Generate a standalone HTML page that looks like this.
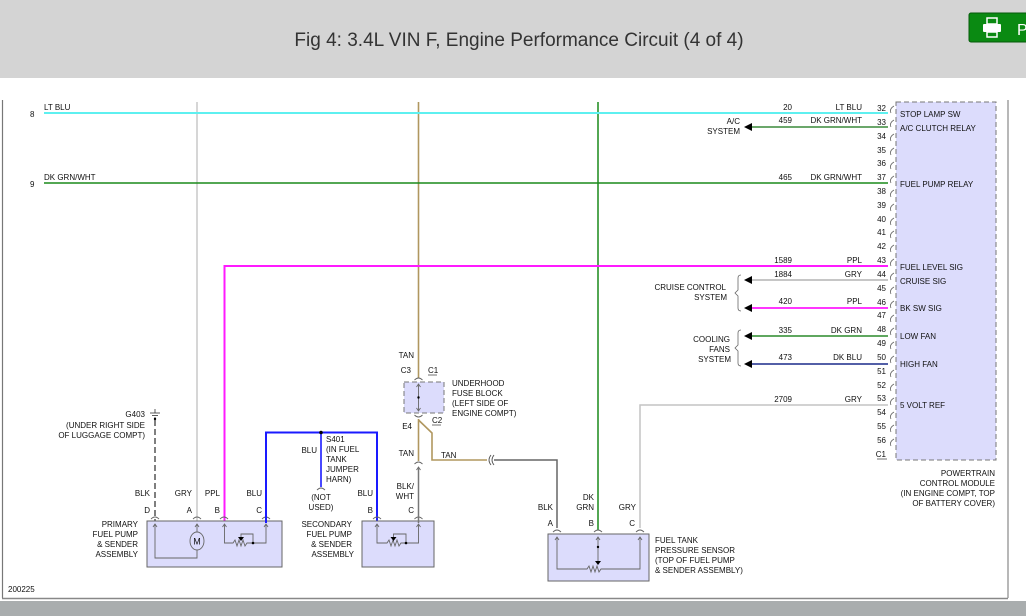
<!DOCTYPE html>
<html><head><meta charset="utf-8">
<style>
html,body{margin:0;padding:0;width:1026px;height:616px;overflow:hidden;background:#fff;}
svg{display:block;}
text{font-family:"Liberation Sans",Arial,sans-serif;font-size:8px;fill:#111;}
</style></head>
<body>
<svg width="1026" height="616" viewBox="0 0 1026 616" xmlns="http://www.w3.org/2000/svg">
<!-- header -->
<rect x="0" y="0" width="1026" height="78" fill="#d4d4d4"/>
<text x="519" y="46" text-anchor="middle" style="font-size:19px;fill:#333">Fig 4: 3.4L VIN F, Engine Performance Circuit (4 of 4)</text>
<rect x="969" y="13" width="60" height="29" rx="2" fill="#0a8a12" stroke="#055a0a"/>
<rect x="987" y="18" width="10" height="6" fill="none" stroke="#fff" stroke-width="1.5"/>
<rect x="983" y="24" width="18" height="8" rx="1" fill="#fff"/>
<rect x="987" y="32" width="10" height="5" fill="none" stroke="#fff" stroke-width="1.5"/>
<text x="1017" y="35" style="font-size:16px;fill:#fff">P</text>
<!-- bottom bar -->
<rect x="0" y="601" width="1026" height="15" fill="#a9adae"/>
<!-- frame -->
<line x1="2.5" y1="100" x2="2.5" y2="598" stroke="#777" stroke-width="1.2"/>
<line x1="2" y1="598.5" x2="1008" y2="598.5" stroke="#888" stroke-width="1.5"/>
<line x1="1008" y1="100" x2="1008" y2="598" stroke="#888" stroke-width="1.2"/>
<text x="8" y="592">200225</text>

<!-- PCM box -->
<rect x="896" y="102" width="100" height="358" fill="#dcdcfc" stroke="#777" stroke-dasharray="5,3"/>
<g>
<text x="886" y="111" text-anchor="end">32</text>
<text x="886" y="125" text-anchor="end">33</text>
<text x="886" y="139" text-anchor="end">34</text>
<text x="886" y="153" text-anchor="end">35</text>
<text x="886" y="166" text-anchor="end">36</text>
<text x="886" y="180" text-anchor="end">37</text>
<text x="886" y="194" text-anchor="end">38</text>
<text x="886" y="208" text-anchor="end">39</text>
<text x="886" y="222" text-anchor="end">40</text>
<text x="886" y="235" text-anchor="end">41</text>
<text x="886" y="249" text-anchor="end">42</text>
<text x="886" y="263" text-anchor="end">43</text>
<text x="886" y="277" text-anchor="end">44</text>
<text x="886" y="291" text-anchor="end">45</text>
<text x="886" y="305" text-anchor="end">46</text>
<text x="886" y="318" text-anchor="end">47</text>
<text x="886" y="332" text-anchor="end">48</text>
<text x="886" y="346" text-anchor="end">49</text>
<text x="886" y="360" text-anchor="end">50</text>
<text x="886" y="374" text-anchor="end">51</text>
<text x="886" y="388" text-anchor="end">52</text>
<text x="886" y="401" text-anchor="end">53</text>
<text x="886" y="415" text-anchor="end">54</text>
<text x="886" y="429" text-anchor="end">55</text>
<text x="886" y="443" text-anchor="end">56</text>
<text x="886" y="457" text-anchor="end">C1</text>
<line x1="877" y1="459" x2="887" y2="459" stroke="#111" stroke-width="0.6"/>
</g>
<g fill="none" stroke="#666" stroke-width="0.8">
<path d="M894 106 q-5 3 -3 7 M894 120 q-5 3 -3 7 M894 134 q-5 3 -3 7 M894 148 q-5 3 -3 7 M894 162 q-5 3 -3 7 M894 176 q-5 3 -3 7 M894 190 q-5 3 -3 7 M894 204 q-5 3 -3 7 M894 218 q-5 3 -3 7 M894 231 q-5 3 -3 7 M894 245 q-5 3 -3 7 M894 259 q-5 3 -3 7 M894 273 q-5 3 -3 7 M894 287 q-5 3 -3 7 M894 301 q-5 3 -3 7 M894 315 q-5 3 -3 7 M894 328 q-5 3 -3 7 M894 342 q-5 3 -3 7 M894 356 q-5 3 -3 7 M894 370 q-5 3 -3 7 M894 384 q-5 3 -3 7 M894 398 q-5 3 -3 7 M894 412 q-5 3 -3 7 M894 425 q-5 3 -3 7 M894 439 q-5 3 -3 7"/>
</g>
<g style="font-size:8px">
<text x="900" y="117">STOP LAMP SW</text>
<text x="900" y="131">A/C CLUTCH RELAY</text>
<text x="900" y="187">FUEL PUMP RELAY</text>
<text x="900" y="270">FUEL LEVEL SIG</text>
<text x="900" y="284">CRUISE SIG</text>
<text x="900" y="311">BK SW SIG</text>
<text x="900" y="339">LOW FAN</text>
<text x="900" y="367">HIGH FAN</text>
<text x="900" y="408">5 VOLT REF</text>
</g>
<g text-anchor="end">
<text x="995" y="476">POWERTRAIN</text>
<text x="995" y="486">CONTROL MODULE</text>
<text x="995" y="496">(IN ENGINE COMPT, TOP</text>
<text x="995" y="506">OF BATTERY COVER)</text>
</g>

<!-- vertical background wires -->
<line x1="197" y1="102" x2="197" y2="523" stroke="#c8c8c8" stroke-width="1.5"/>
<line x1="418.5" y1="102" x2="418.5" y2="378" stroke="#b0975f" stroke-width="1.6"/>
<line x1="598" y1="102" x2="598" y2="530" stroke="#1a8a1a" stroke-width="1.5"/>

<!-- horizontal wires -->
<line x1="44" y1="113" x2="888" y2="113" stroke="#5ef0f0" stroke-width="2"/>
<text x="44" y="110">LT BLU</text><text x="30" y="117">8</text>
<text x="792" y="110" text-anchor="end">20</text><text x="862" y="110" text-anchor="end">LT BLU</text>

<line x1="752" y1="127" x2="888" y2="127" stroke="#3a8a3a" stroke-width="1.5"/>
<path d="M744 127 l8 -4 v8 z" fill="#000"/>
<text x="740" y="124" text-anchor="end">A/C</text><text x="740" y="134" text-anchor="end">SYSTEM</text>
<text x="792" y="123" text-anchor="end">459</text><text x="862" y="123" text-anchor="end">DK GRN/WHT</text>

<line x1="44" y1="183" x2="888" y2="183" stroke="#1a8a1a" stroke-width="1.5"/>
<text x="44" y="180">DK GRN/WHT</text><text x="30" y="187">9</text>
<text x="792" y="180" text-anchor="end">465</text><text x="862" y="180" text-anchor="end">DK GRN/WHT</text>

<polyline points="224.5,526 224.5,266 888,266" fill="none" stroke="#ff1aff" stroke-width="2"/>
<text x="792" y="263" text-anchor="end">1589</text><text x="862" y="263" text-anchor="end">PPL</text>

<line x1="752" y1="280" x2="888" y2="280" stroke="#b4b4b4" stroke-width="1.5"/>
<path d="M744 280 l8 -4 v8 z" fill="#000"/>
<text x="792" y="277" text-anchor="end">1884</text><text x="862" y="277" text-anchor="end">GRY</text>
<line x1="752" y1="308" x2="888" y2="308" stroke="#ff1aff" stroke-width="1.8"/>
<path d="M744 308 l8 -4 v8 z" fill="#000"/>
<text x="792" y="304" text-anchor="end">420</text><text x="862" y="304" text-anchor="end">PPL</text>
<path d="M741 275 q-3 0 -3 3 v12 l-3 3 l3 3 v12 q0 3 3 3" fill="none" stroke="#666" stroke-width="0.8"/>
<text x="726" y="290" text-anchor="end">CRUISE CONTROL</text><text x="727" y="300" text-anchor="end">SYSTEM</text>

<line x1="752" y1="336" x2="888" y2="336" stroke="#2a8a2a" stroke-width="1.5"/>
<path d="M744 336 l8 -4 v8 z" fill="#000"/>
<text x="792" y="333" text-anchor="end">335</text><text x="862" y="333" text-anchor="end">DK GRN</text>
<line x1="752" y1="364" x2="888" y2="364" stroke="#1a2a8a" stroke-width="1.6"/>
<path d="M744 364 l8 -4 v8 z" fill="#000"/>
<text x="792" y="360" text-anchor="end">473</text><text x="862" y="360" text-anchor="end">DK BLU</text>
<path d="M741 330 q-3 0 -3 3 v12 l-3 3 l3 3 v12 q0 3 3 3" fill="none" stroke="#666" stroke-width="0.8"/>
<text x="730" y="342" text-anchor="end">COOLING</text><text x="730" y="352" text-anchor="end">FANS</text><text x="731" y="362" text-anchor="end">SYSTEM</text>

<polyline points="640,528 640,405 888,405" fill="none" stroke="#c4c4c4" stroke-width="1.5"/>
<text x="792" y="402" text-anchor="end">2709</text><text x="862" y="402" text-anchor="end">GRY</text>

<!-- G403 -->
<line x1="155" y1="420" x2="155" y2="524" stroke="#555" stroke-width="1.5" stroke-dasharray="6,3"/>
<g stroke="#333" stroke-width="0.8"><line x1="150" y1="413" x2="160" y2="413"/><line x1="152" y1="415.5" x2="158" y2="415.5"/><line x1="154" y1="418" x2="156" y2="418"/><line x1="155" y1="409" x2="155" y2="413"/></g>
<circle cx="155" cy="419" r="1.2" fill="#000"/>
<text x="145" y="417" text-anchor="end">G403</text>
<text x="145" y="428" text-anchor="end">(UNDER RIGHT SIDE</text>
<text x="145" y="438" text-anchor="end">OF LUGGAGE COMPT)</text>

<!-- primary fuel pump -->
<rect x="147" y="521" width="135" height="46" fill="#dcdcfc" stroke="#666"/>
<g fill="none" stroke="#666" stroke-width="0.9">
<path d="M151 519 q4 -4 8 0 M193 519 q4 -4 8 0 M220 519 q4 -4 8 0 M262 519 q4 -4 8 0"/>
<polyline points="155,524 155,558 197,558 197,550"/>
<line x1="197" y1="524" x2="197" y2="532"/>
<polyline points="224.5,524 224.5,543 233,543 235,540 237,546 239,540 241,546 243,540 245,546 247,543 266,543 266,524"/>
<polyline points="241,538 241,534 253,534 253,543"/>
<ellipse cx="197" cy="541" rx="7" ry="9"/>
<path d="M153 527 l2 -3 l2 3 M195 527 l2 -3 l2 3 M222.5 527 l2 -3 l2 3 M264 527 l2 -3 l2 3"/>
</g>
<path d="M238 537 h6 l-3 4 z" fill="#000"/><circle cx="253" cy="543" r="1.3" fill="#000"/>
<text x="197" y="544.5" text-anchor="middle" style="font-size:9px">M</text>
<text x="150" y="513" text-anchor="end">D</text><text x="192" y="513" text-anchor="end">A</text><text x="220" y="513" text-anchor="end">B</text><text x="262" y="513" text-anchor="end">C</text>
<text x="150" y="496" text-anchor="end">BLK</text><text x="192" y="496" text-anchor="end">GRY</text><text x="220" y="496" text-anchor="end">PPL</text><text x="262" y="496" text-anchor="end">BLU</text>
<g text-anchor="end"><text x="138" y="527">PRIMARY</text><text x="138" y="537">FUEL PUMP</text><text x="138" y="547">&amp; SENDER</text><text x="138" y="557">ASSEMBLY</text></g>

<!-- blue wires / S401 -->
<polyline points="266,523 266,432.5 377,432.5 377,523" fill="none" stroke="#1a1aff" stroke-width="2"/>
<line x1="321" y1="432" x2="321" y2="487" stroke="#1a1aff" stroke-width="1.6"/>
<circle cx="321" cy="432.5" r="1.8" fill="#000"/>
<path d="M317 490 q4 -4 8 0" fill="none" stroke="#666" stroke-width="0.9"/>
<text x="326" y="442">S401</text><text x="326" y="452">(IN FUEL</text><text x="326" y="462">TANK</text><text x="326" y="472">JUMPER</text><text x="326" y="482">HARN)</text>
<text x="317" y="453" text-anchor="end">BLU</text>
<text x="321" y="500" text-anchor="middle">(NOT</text><text x="321" y="510" text-anchor="middle">USED)</text>
<text x="373" y="496" text-anchor="end">BLU</text>

<!-- secondary pump -->
<rect x="362" y="521" width="72" height="46" fill="#dcdcfc" stroke="#666"/>
<g fill="none" stroke="#666" stroke-width="0.9">
<path d="M373 519 q4 -4 8 0 M414.5 519 q4 -4 8 0"/>
<polyline points="377,524 377,543 387,543 389,540 391,546 393,540 395,546 397,540 399,546 401,543 418.5,543 418.5,524"/>
<polyline points="393.5,538 393.5,534 406,534 406,543"/>
<path d="M375 527 l2 -3 l2 3 M416.5 527 l2 -3 l2 3"/>
</g>
<path d="M390.5 537 h6 l-3 4 z" fill="#000"/><circle cx="406" cy="543" r="1.3" fill="#000"/>
<text x="373" y="513" text-anchor="end">B</text><text x="414" y="513" text-anchor="end">C</text>
<g text-anchor="end"><text x="352" y="527">SECONDARY</text><text x="352" y="537">FUEL PUMP</text><text x="352" y="547">&amp; SENDER</text><text x="354" y="557">ASSEMBLY</text></g>

<!-- fuse block -->
<rect x="404" y="382" width="40" height="31" fill="#dcdcfc" stroke="#777" stroke-dasharray="5,3"/>
<g fill="none" stroke="#666" stroke-width="0.9">
<path d="M414.5 380 q4 -4 8 0 M414.5 415 q4 4 8 0"/>
<line x1="418.5" y1="384" x2="418.5" y2="411"/>
<path d="M416.5 387 l2 -3 l2 3 M416.5 408 l2 3 l2 -3"/>
<path d="M414.5 464 q4 -4 8 0"/>
<path d="M416.5 470 l2 -3 l2 3"/>
</g>
<circle cx="418.5" cy="397.5" r="1.2" fill="#000"/>
<text x="414" y="358" text-anchor="end">TAN</text>
<text x="411" y="373" text-anchor="end">C3</text><text x="428" y="373">C1</text>
<line x1="428" y1="375" x2="437" y2="375" stroke="#111" stroke-width="0.6"/>
<text x="432" y="423">C2</text>
<line x1="432" y1="425" x2="441" y2="425" stroke="#111" stroke-width="0.6"/>
<text x="412" y="429" text-anchor="end">E4</text>
<g><text x="452" y="386">UNDERHOOD</text><text x="452" y="396">FUSE BLOCK</text><text x="452" y="406">(LEFT SIDE OF</text><text x="452" y="416">ENGINE COMPT)</text></g>
<line x1="418.5" y1="419" x2="418.5" y2="461" stroke="#b0975f" stroke-width="1.6"/>
<polyline points="418.5,420 432,433 432,460 487,460" fill="none" stroke="#b0975f" stroke-width="1.6"/>
<text x="414" y="456" text-anchor="end">TAN</text><text x="441" y="458">TAN</text>
<path d="M491 455 q-4 5 0 10 M494 455 q-4 5 0 10" fill="none" stroke="#555" stroke-width="0.9"/>
<polyline points="494,460 557,460 557,528" fill="none" stroke="#666" stroke-width="1.5"/>
<line x1="418.5" y1="468" x2="418.5" y2="523" stroke="#777" stroke-width="1.5"/>
<text x="414" y="489" text-anchor="end">BLK/</text><text x="414" y="499" text-anchor="end">WHT</text>

<!-- fuel tank pressure sensor -->
<rect x="548" y="534" width="101" height="47" fill="#dcdcfc" stroke="#666"/>
<g fill="none" stroke="#666" stroke-width="0.9">
<path d="M553 532 q4 -4 8 0 M594 532 q4 -4 8 0 M636 532 q4 -4 8 0"/>
<polyline points="557,537 557,569 587,569 589,566 591,572 593,566 595,572 597,566 599,572 601,569 640,569 640,537"/>
<path d="M555 540 l2 -3 l2 3 M596 540 l2 -3 l2 3 M638 540 l2 -3 l2 3"/>
<line x1="598" y1="537" x2="598" y2="561"/>
</g>
<path d="M595 561 h6 l-3 4 z" fill="#000"/><circle cx="598" cy="547" r="1.2" fill="#000"/>
<text x="553" y="526" text-anchor="end">A</text><text x="594" y="526" text-anchor="end">B</text><text x="635" y="526" text-anchor="end">C</text>
<text x="553" y="510" text-anchor="end">BLK</text>
<text x="594" y="500" text-anchor="end">DK</text><text x="594" y="510" text-anchor="end">GRN</text>
<text x="636" y="510" text-anchor="end">GRY</text>
<g><text x="655" y="543">FUEL TANK</text><text x="655" y="553">PRESSURE SENSOR</text><text x="655" y="563">(TOP OF FUEL PUMP</text><text x="655" y="573">&amp; SENDER ASSEMBLY)</text></g>
</svg>
</body></html>
